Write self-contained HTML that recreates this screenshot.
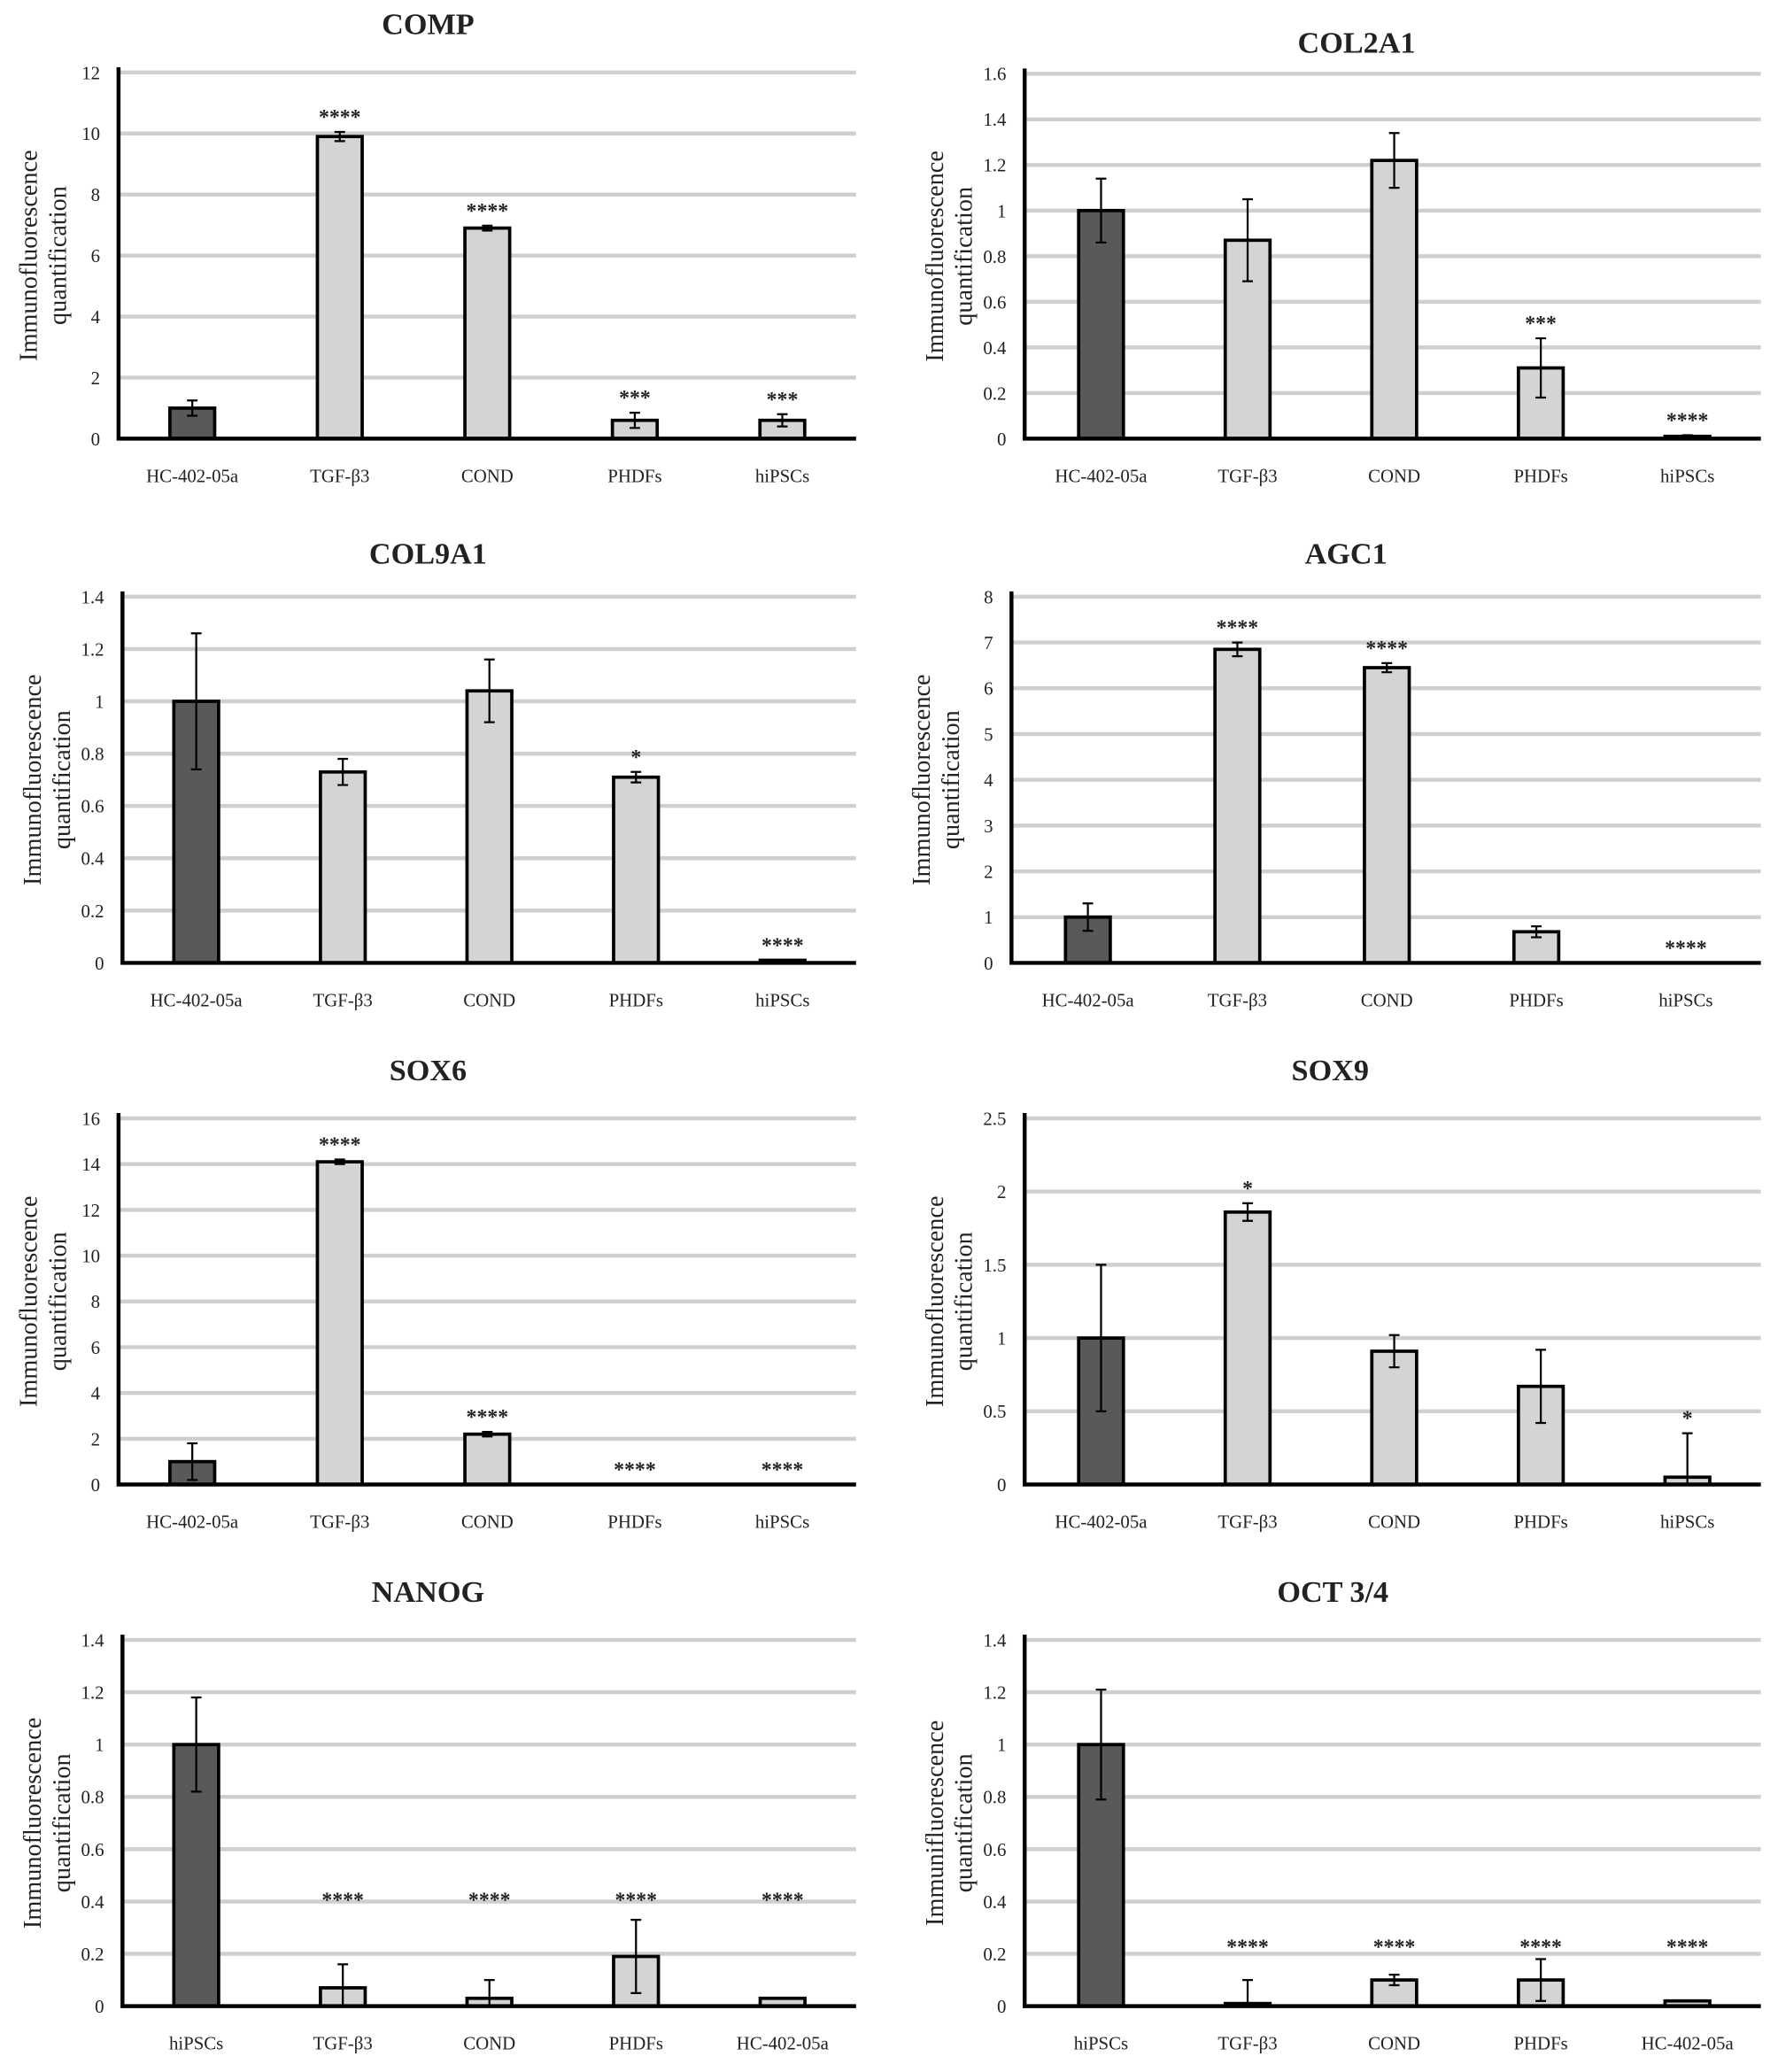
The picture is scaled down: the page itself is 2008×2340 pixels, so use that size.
<!DOCTYPE html>
<html><head><meta charset="utf-8"><style>
html,body{margin:0;padding:0;background:#fff;}
svg{display:block;}
text{font-family:"Liberation Serif",serif;fill:#222;}
</style></head><body>
<svg id="fig" width="2008" height="2340" viewBox="0 0 1350 1573" preserveAspectRatio="none" xmlns="http://www.w3.org/2000/svg"></svg>
<script>
const compCats=["HC-402-05a","TGF-β3","COND","PHDFs","hiPSCs"];
const compVals=[1,9.9,6.9,0.6,0.6];
const compErr=[0.25,0.15,0.08,0.25,0.2];
const compStars=["","****","****","***","***"];
const compTicks=[0,2,4,6,8,10,12];

const col2Cats=["HC-402-05a","TGF-β3","COND","PHDFs","hiPSCs"];
const col2Vals=[1,0.87,1.22,0.31,0.01];
const col2Err=[0.14,0.18,0.12,0.13,0.005];
const col2Stars=["","","","***","****"];
const col2Ticks=[0,0.2,0.4,0.6,0.8,1,1.2,1.4,1.6];

const col9Cats=["HC-402-05a","TGF-β3","COND","PHDFs","hiPSCs"];
const col9Vals=[1,0.73,1.04,0.71,0.01];
const col9Err=[0.26,0.05,0.12,0.02,0];
const col9Stars=["","","","*","****"];
const col9Ticks=[0,0.2,0.4,0.6,0.8,1,1.2,1.4];

const agcCats=["HC-402-05a","TGF-β3","COND","PHDFs","hiPSCs"];
const agcVals=[1,6.85,6.45,0.68,0];
const agcErr=[0.3,0.15,0.1,0.12,0];
const agcStars=["","****","****","","****"];
const agcTicks=[0,1,2,3,4,5,6,7,8];

const sox6Cats=["HC-402-05a","TGF-β3","COND","PHDFs","hiPSCs"];
const sox6Vals=[1,14.1,2.2,0,0];
const sox6Err=[0.8,0.1,0.1,0,0];
const sox6Stars=["","****","****","****","****"];
const sox6Ticks=[0,2,4,6,8,10,12,14,16];

const sox9Cats=["HC-402-05a","TGF-β3","COND","PHDFs","hiPSCs"];
const sox9Vals=[1,1.86,0.91,0.67,0.05];
const sox9Err=[0.5,0.06,0.11,0.25,0.3];
const sox9Stars=["","*","","","*"];
const sox9Ticks=[0,0.5,1,1.5,2,2.5];

const nanCats=["hiPSCs","TGF-β3","COND","PHDFs","HC-402-05a"];
const nanVals=[1,0.07,0.03,0.19,0.03];
const nanErr=[0.18,0.09,0.07,0.14,0];
const nanStars=["","****","****","****","****"];
const nanTicks=[0,0.2,0.4,0.6,0.8,1,1.2,1.4];

const octCats=["hiPSCs","TGF-β3","COND","PHDFs","HC-402-05a"];
const octVals=[1,0.01,0.1,0.1,0.02];
const octErr=[0.21,0.09,0.02,0.08,0];
const octStars=["","****","****","****","****"];
const octTicks=[0,0.2,0.4,0.6,0.8,1,1.2,1.4];

const NS="http://www.w3.org/2000/svg";
const svg=document.getElementById('fig');
function mk(tag,attrs,parent){const e=document.createElementNS(NS,tag);for(const k in attrs)e.setAttribute(k,attrs[k]);(parent||svg).appendChild(e);return e;}

function chart(o){
  const g=mk('g',{});
  
  
  const max=o.ticks[o.ticks.length-1];
  const y=v=>o.bottom-(v/max)*(o.bottom-o.top);
  const x=i=>o.x0+o.step*i;
  const t=mk('text',{x:o.tx,y:o.ty,'text-anchor':'middle','font-size':23,'font-weight':'bold'},g);
  t.textContent=o.title;
  
  
  o.ticks.forEach(v=>{
    if(v>0){const gl=mk('line',{x1:o.ax,x2:o.right,y1:y(v),y2:y(v),stroke:'#cfcfcf','stroke-width':3},g);
      
      }
    const tl=mk('text',{x:o.ax-14,y:y(v)+5,'text-anchor':'end','font-size':14},g);
    tl.textContent=String(v);
    
    
  });
  const yl=mk('text',{transform:`translate(${o.ax-62},${(o.top+o.bottom)/2}) rotate(-90)`,'text-anchor':'middle','font-size':19},g);
  
  
  const s1=mk('tspan',{x:0,dy:0},yl);s1.textContent=o.ylabel;
  const s2=mk('tspan',{x:0,dy:22},yl);s2.textContent='quantification';
  o.vals.forEach((v,i)=>{
    const cx=x(i),w=34;
    const b=mk('rect',{x:cx-w/2,y:y(v),width:w,height:Math.max(0,o.bottom-y(v)),fill:i===0?'#595959':'#d4d4d4',stroke:'#000','stroke-width':2.5},g);
    
    
    const e=o.err[i];
    if(e>0){
      const lo=Math.max(0,v-e),hi=v+e;
      const eb=mk('path',{d:`M${cx},${y(lo)}V${y(hi)}M${cx-4},${y(lo)}H${cx+4}M${cx-4},${y(hi)}H${cx+4}`,stroke:'#000','stroke-width':1.5,fill:'none'},g);
      
      
    }
    if(o.stars[i]){
      const sy=o.starLevel!=null?y(o.starLevel):y(v+e)-10;
      const st=mk('text',{x:cx,y:sy+4,'text-anchor':'middle','font-size':16,'font-weight':'bold'},g);
      st.textContent=o.stars[i];
      
      
    }
    const xl=mk('text',{x:cx,y:o.bottom+33,'text-anchor':'middle','font-size':14},g);
    xl.textContent=o.cats[i];
    
    
  });
  const ax=mk('path',{d:`M${o.ax},${o.top-4}V${o.bottom}H${o.right}`,stroke:'#000','stroke-width':3,fill:'none'},g);
  
  
}
const L={ax:90,right:650,x0:146,step:112,tx:325,ylabel:'Immunofluorescence'};
const R={ax:778,right:1337,x0:836,step:111.3,ylabel:'Immunofluorescence'};
chart({...L,name:'comp',title:'COMP',ty:26,top:55,bottom:333,cats:compCats,vals:compVals,err:compErr,stars:compStars,ticks:compTicks});
chart({...R,name:'col2a1',title:'COL2A1',tx:1030,ty:40,top:56,bottom:333,cats:col2Cats,vals:col2Vals,err:col2Err,stars:col2Stars,ticks:col2Ticks});
chart({...L,ax:93,x0:149,step:111.3,name:'col9a1',title:'COL9A1',ty:428,top:453,bottom:731,cats:col9Cats,vals:col9Vals,err:col9Err,stars:col9Stars,ticks:col9Ticks});
chart({...R,ax:768,x0:826,step:113.5,name:'agc1',title:'AGC1',tx:1022,ty:428,top:453,bottom:731,cats:agcCats,vals:agcVals,err:agcErr,stars:agcStars,ticks:agcTicks});
chart({...L,name:'sox6',title:'SOX6',ty:820,top:849,bottom:1127,cats:sox6Cats,vals:sox6Vals,err:sox6Err,stars:sox6Stars,ticks:sox6Ticks});
chart({...R,name:'sox9',title:'SOX9',tx:1010,ty:820,top:849,bottom:1127,cats:sox9Cats,vals:sox9Vals,err:sox9Err,stars:sox9Stars,ticks:sox9Ticks});
chart({...L,ax:93,x0:149,step:111.3,name:'nanog',title:'NANOG',ty:1216,top:1245,bottom:1523,cats:nanCats,vals:nanVals,err:nanErr,stars:nanStars,ticks:nanTicks,starLevel:0.4});
chart({...R,name:'oct34',title:'OCT 3/4',tx:1012,ty:1216,top:1245,bottom:1523,cats:octCats,vals:octVals,err:octErr,stars:octStars,ticks:octTicks,starLevel:0.22,ylabel:'Immunifluorescence'});
</script>
</body></html>
